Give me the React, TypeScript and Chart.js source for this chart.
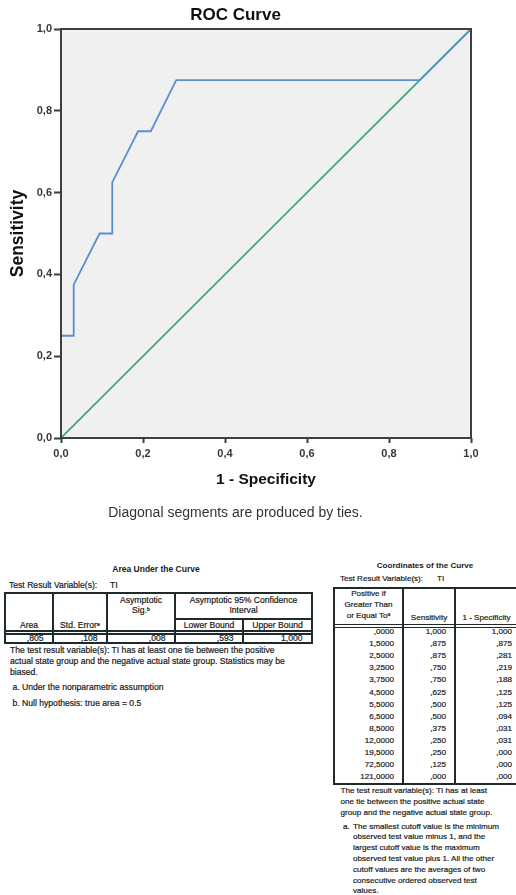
import React, { useEffect, useRef } from 'react';
import { Chart, registerables } from 'chart.js';

Chart.register(...registerables);

// ---- Data ----
const cutoffs = [0, 1.5, 2.5, 3.25, 3.75, 4.5, 5.5, 6.5, 8.5, 12, 19.5, 72.5, 121];
const sensitivity = [1, 0.875, 0.875, 0.75, 0.75, 0.625, 0.5, 0.5, 0.375, 0.25, 0.25, 0.125, 0];
const oneMinusSpecificity = [1, 0.875, 0.281, 0.219, 0.188, 0.125, 0.125, 0.094, 0.031, 0.031, 0, 0, 0];
const referenceX = [0, 1];
const referenceY = [0, 1];
const axisTicks = [0, 0.2, 0.4, 0.6, 0.8, 1.0];

const aucValues = [0.805, 0.108, 0.008, 0.593, 1.0];

const aucNoteLines = [
  'The test result variable(s): TI has at least one tie between the positive',
  'actual state group and the negative actual state group. Statistics may be',
  'biased.',
];
const coordNoteLines = [
  'The test result variable(s): TI has at least',
  'one tie between the positive actual state',
  'group and the negative actual state group.',
];
const coordFootALines = [
  'The smallest cutoff value is the minimum',
  'observed test value minus 1, and the',
  'largest cutoff value is the maximum',
  'observed test value plus 1. All the other',
  'cutoff values are the averages of two',
  'consecutive ordered observed test',
  'values.',
];

const FAM = "'Liberation Sans', Arial, Helvetica, sans-serif";
const LINE = '#1f2b2b';
const TXT = '#1a1a1a';

function fmt(v: number, d: number): string {
  const s = v.toFixed(d).replace('.', ',');
  return s.startsWith('0,') ? s.slice(1) : s;
}

function Txt(props: { x: number; y: number; align?: 'left' | 'center' | 'right'; size?: number; bold?: boolean; lh?: number; children: any }) {
  const { x, y, align = 'left', size = 8.6, bold = false, lh = 11, children } = props;
  const w = 300;
  let left = x;
  if (align === 'center') left = x - w / 2;
  else if (align === 'right') left = x - w;
  return (
    <div
      style={{
        position: 'absolute',
        left,
        top: y - lh / 2,
        width: w,
        lineHeight: lh + 'px',
        fontSize: size,
        fontWeight: bold ? 700 : 400,
        textAlign: align,
        whiteSpace: 'nowrap',
        color: TXT,
        WebkitTextStroke: bold ? '0px' : '0.2px ' + TXT,
      }}
    >
      {children}
    </div>
  );
}

function HLine({ x1, x2, y, w = 1 }: { x1: number; x2: number; y: number; w?: number }) {
  return <div style={{ position: 'absolute', left: x1, top: y - w / 2, width: x2 - x1, height: w, background: LINE }} />;
}
function VLine({ x, y1, y2, w = 1.5 }: { x: number; y1: number; y2: number; w?: number }) {
  return <div style={{ position: 'absolute', left: x - w / 2, top: y1, width: w, height: y2 - y1, background: LINE }} />;
}
function Box({ x1, y1, x2, y2 }: { x1: number; y1: number; x2: number; y2: number }) {
  return (
    <div
      style={{
        position: 'absolute',
        left: x1 - 1,
        top: y1 - 1,
        width: x2 - x1 + 2,
        height: y2 - y1 + 2,
        border: '2px solid ' + LINE,
        boxSizing: 'border-box',
      }}
    />
  );
}

const Sup = ({ c }: { c: string }) => (
  <sup style={{ fontSize: '0.65em', lineHeight: 0, verticalAlign: '0.45em' }}>{c}</sup>
);

function RocChart() {
  const ref = useRef<HTMLCanvasElement>(null);
  useEffect(() => {
    if (!ref.current) return;
    const framePlugin = {
      id: 'frame',
      beforeDatasetsDraw(chart: any) {
        const { ctx, chartArea: a } = chart;
        ctx.save();
        ctx.fillStyle = '#f0f0f0';
        ctx.fillRect(a.left, a.top, a.right - a.left, a.bottom - a.top);
        ctx.restore();
      },
      afterDraw(chart: any) {
        const { ctx, chartArea: a } = chart;
        ctx.save();
        ctx.strokeStyle = '#3a3f3f';
        ctx.lineWidth = 2;
        ctx.strokeRect(a.left, a.top, a.right - a.left, a.bottom - a.top);
        ctx.restore();
      },
    };
    const tickFont = { family: FAM, size: 11, weight: 'bold' as const };
    const tickFmt = (v: any) => Number(v).toFixed(1).replace('.', ',');
    const chart = new Chart(ref.current, {
      type: 'scatter',
      data: {
        datasets: [
          {
            label: 'ROC',
            data: oneMinusSpecificity.map((x, i) => ({ x, y: sensitivity[i] })),
            borderColor: '#5b8ed0',
            backgroundColor: '#5b8ed0',
            borderWidth: 1.8,
            pointRadius: 0,
            showLine: true,
            tension: 0,
          },
          {
            label: 'Reference',
            data: referenceX.map((x, i) => ({ x, y: referenceY[i] })),
            borderColor: '#3aa66c',
            backgroundColor: '#3aa66c',
            borderWidth: 1.6,
            pointRadius: 0,
            showLine: true,
            tension: 0,
          },
        ],
      },
      options: {
        animation: false,
        responsive: false,
        devicePixelRatio: 1,
        layout: { padding: { left: 0, right: 45, top: 0, bottom: 0 } },
        plugins: {
          legend: { display: false },
          tooltip: { enabled: false },
          title: {
            display: true,
            text: 'ROC Curve',
            color: '#111',
            font: { family: FAM, size: 17, weight: 'bold' },
            padding: { top: 5, bottom: 3.6 },
          },
          subtitle: {
            display: true,
            position: 'bottom',
            text: 'Diagonal segments are produced by ties.',
            color: '#333',
            font: { family: FAM, size: 14, weight: 'normal' },
            padding: { top: 0, bottom: 3.6 },
          },
        },
        scales: {
          x: {
            type: 'linear',
            position: 'bottom',
            min: 0,
            max: 1,
            afterBuildTicks: (s: any) => {
              s.ticks = axisTicks.map((v) => ({ value: v }));
            },
            afterFit: (s: any) => {
              s.height = 66.6;
            },
            ticks: { color: '#383838', font: tickFont, padding: 4.4, maxRotation: 0, callback: tickFmt },
            grid: { drawOnChartArea: false, drawTicks: true, tickLength: 5, tickColor: '#3a3f3f', tickWidth: 2 },
            border: { display: false },
            title: {
              display: true,
              text: '1 - Specificity',
              color: '#111',
              font: { family: FAM, size: 15.5, weight: 'bold' },
              padding: { top: 0, bottom: 15.3 },
            },
          },
          y: {
            type: 'linear',
            position: 'left',
            min: 0,
            max: 1,
            afterBuildTicks: (s: any) => {
              s.ticks = axisTicks.map((v) => ({ value: v }));
            },
            afterFit: (s: any) => {
              s.width = 61;
            },
            ticks: { color: '#383838', font: tickFont, padding: 2, callback: tickFmt },
            grid: { drawOnChartArea: false, drawTicks: true, tickLength: 7, tickColor: '#3a3f3f', tickWidth: 2 },
            border: { display: false },
            title: {
              display: true,
              text: 'Sensitivity',
              color: '#111',
              font: { family: FAM, size: 17.5, weight: 'bold' },
              padding: { top: 7.5, bottom: 0 },
            },
          },
        },
      },
      plugins: [framePlugin],
    } as any);
    return () => chart.destroy();
  }, []);
  return (
    <canvas
      ref={ref}
      width={516}
      height={525}
      style={{ position: 'absolute', left: 0, top: 0, width: 516, height: 525, display: 'block' }}
    />
  );
}

function AucTable() {
  const edges = [5, 53, 107, 175, 243, 312];
  const top = 593, bottom = 643, mid = 619, dbl = 632.5;
  const cx = (i: number) => (edges[i] + edges[i + 1]) / 2;
  return (
    <>
      <Txt x={156} y={569} align="center" bold size={8.5}>Area Under the Curve</Txt>
      <Txt x={9} y={585}>Test Result Variable(s):</Txt>
      <Txt x={110} y={585}>TI</Txt>
      <Box x1={edges[0]} y1={top} x2={edges[5]} y2={bottom} />
      {[1, 2, 3].map((i) => (
        <VLine key={i} x={edges[i]} y1={top} y2={bottom} />
      ))}
      <VLine x={edges[4]} y1={mid} y2={bottom} />
      <HLine x1={edges[3]} x2={edges[5]} y={mid} w={1.5} />
      <HLine x1={edges[0]} x2={edges[5]} y={dbl - 1.5} w={1.2} />
      <HLine x1={edges[0]} x2={edges[5]} y={dbl + 1.5} w={1.2} />
      <Txt x={cx(0)} y={625} align="center">Area</Txt>
      <Txt x={cx(1)} y={625} align="center">Std. Error<Sup c="a" /></Txt>
      <Txt x={cx(2)} y={600} align="center">Asymptotic</Txt>
      <Txt x={cx(2)} y={610} align="center">Sig.<Sup c="b" /></Txt>
      <Txt x={(edges[3] + edges[5]) / 2} y={600} align="center">Asymptotic 95% Confidence</Txt>
      <Txt x={(edges[3] + edges[5]) / 2} y={610.5} align="center">Interval</Txt>
      <Txt x={cx(3)} y={625} align="center">Lower Bound</Txt>
      <Txt x={cx(4)} y={625} align="center">Upper Bound</Txt>
      {aucValues.map((v, i) => (
        <Txt key={i} x={edges[i + 1] - 9.5} y={638.5} align="right">{fmt(v, 3)}</Txt>
      ))}
      {aucNoteLines.map((l, i) => (
        <Txt key={'n' + i} x={10} y={650 + i * 11.3}>{l}</Txt>
      ))}
      <Txt x={12.5} y={687}>a. Under the nonparametric assumption</Txt>
      <Txt x={12.5} y={703.3}>b. Null hypothesis: true area = 0.5</Txt>
    </>
  );
}

function CoordTable() {
  const edges = [334, 403, 455, 518];
  const top = 588, bottom = 784, dbl = 626;
  const cx = (i: number) => (edges[i] + edges[i + 1]) / 2;
  const S = 8.1;
  const rowY = (i: number) => 631.7 + i * 12.07;
  return (
    <>
      <Txt x={425} y={565} align="center" bold size={8.1}>Coordinates of the Curve</Txt>
      <Txt x={340} y={578.3} size={S}>Test Result Variable(s):</Txt>
      <Txt x={437} y={578.3} size={S}>TI</Txt>
      <Box x1={edges[0]} y1={top} x2={edges[3]} y2={bottom} />
      <VLine x={edges[1]} y1={top} y2={bottom} />
      <VLine x={edges[2]} y1={top} y2={bottom} />
      <HLine x1={edges[0]} x2={edges[3]} y={dbl - 1.5} w={1.2} />
      <HLine x1={edges[0]} x2={edges[3]} y={dbl + 1.5} w={1.2} />
      <Txt x={cx(0)} y={593} align="center" size={S}>Positive if</Txt>
      <Txt x={cx(0)} y={604} align="center" size={S}>Greater Than</Txt>
      <Txt x={cx(0)} y={615} align="center" size={S}>or Equal To<Sup c="a" /></Txt>
      <Txt x={cx(1)} y={617} align="center" size={S}>Sensitivity</Txt>
      <Txt x={486.5} y={617} align="center" size={S}>1 - Specificity</Txt>
      {cutoffs.map((c, i) => (
        <React.Fragment key={i}>
          <Txt x={edges[1] - 9} y={rowY(i)} align="right" size={S}>{fmt(c, 4)}</Txt>
          <Txt x={edges[2] - 9} y={rowY(i)} align="right" size={S}>{fmt(sensitivity[i], 3)}</Txt>
          <Txt x={512} y={rowY(i)} align="right" size={S}>{fmt(oneMinusSpecificity[i], 3)}</Txt>
        </React.Fragment>
      ))}
      {coordNoteLines.map((l, i) => (
        <Txt key={'n' + i} x={340.5} y={790 + i * 11} size={S}>{l}</Txt>
      ))}
      <Txt x={343} y={826} size={S}>a.</Txt>
      {coordFootALines.map((l, i) => (
        <Txt key={'a' + i} x={353} y={826 + i * 10.8} size={S}>{l}</Txt>
      ))}
    </>
  );
}

export default function App() {
  return (
    <div
      style={{
        position: 'absolute',
        left: 0,
        top: 0,
        width: 516,
        height: 895,
        overflow: 'hidden',
        background: '#ffffff',
        fontFamily: FAM,
      }}
    >
      <RocChart />
      <AucTable />
      <CoordTable />
    </div>
  );
}
